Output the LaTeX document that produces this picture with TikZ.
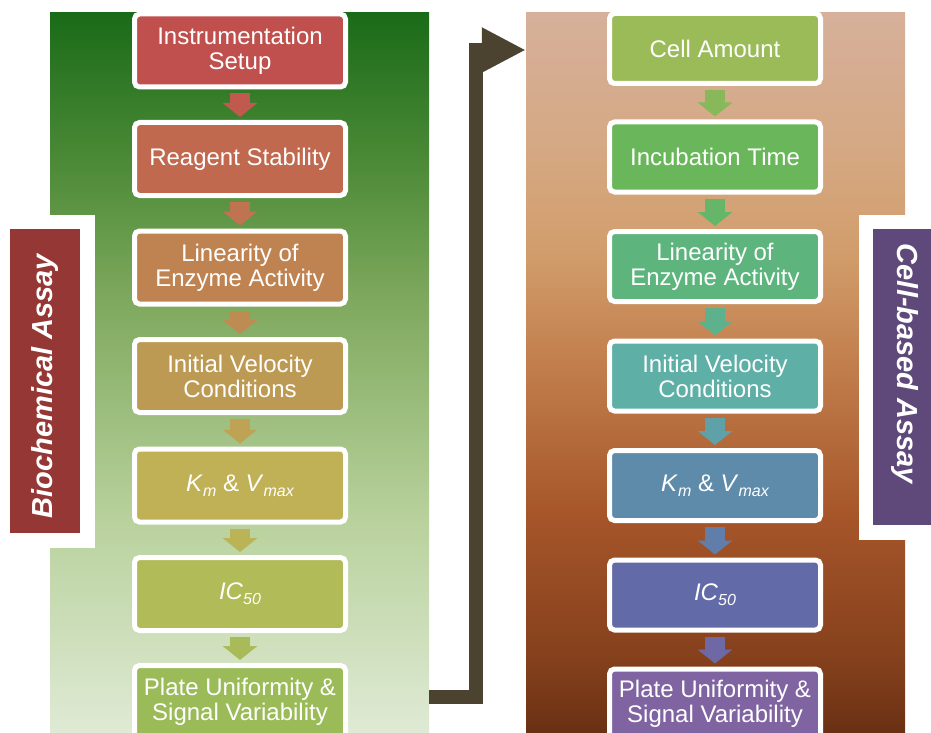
\documentclass[tikz,border=0pt]{standalone}
\usepackage{fontspec}
\setmainfont{Liberation Sans}
\usetikzlibrary{arrows.meta,calc}
\definecolor{gp0}{HTML}{DFEAD4}
\definecolor{gp1}{HTML}{B8D19C}
\definecolor{gp2}{HTML}{7FA95E}
\definecolor{gp3}{HTML}{4A8936}
\definecolor{gp4}{HTML}{1A6B18}
\definecolor{bp0}{HTML}{6A3014}
\definecolor{bp1}{HTML}{84401C}
\definecolor{bp2}{HTML}{A65529}
\definecolor{bp3}{HTML}{C07C4A}
\definecolor{bp4}{HTML}{D19C6A}
\definecolor{bp5}{HTML}{D5A882}
\definecolor{bp6}{HTML}{D6B09B}
\pgfdeclareverticalshading{greenpanel}{100bp}{color(0bp)=(gp0); color(25bp)=(gp0); color(40bp)=(gp1); color(55bp)=(gp2); color(65bp)=(gp3); color(75bp)=(gp4); color(100bp)=(gp4)}
\pgfdeclareverticalshading{brownpanel}{100bp}{color(0bp)=(bp0); color(25bp)=(bp0); color(30bp)=(bp1); color(40bp)=(bp2); color(50bp)=(bp3); color(58bp)=(bp4); color(65bp)=(bp5); color(75bp)=(bp6); color(100bp)=(bp6)}
\definecolor{L1}{HTML}{C0504D}
\definecolor{L2}{HTML}{C0694F}
\definecolor{L3}{HTML}{BF8351}
\definecolor{L4}{HTML}{BD9A53}
\definecolor{L5}{HTML}{C0B056}
\definecolor{L6}{HTML}{B1BB57}
\definecolor{L7}{HTML}{9BBB59}
\definecolor{R1}{HTML}{9BBB59}
\definecolor{R2}{HTML}{6AB75B}
\definecolor{R3}{HTML}{5DB47D}
\definecolor{R4}{HTML}{5EAFA6}
\definecolor{R5}{HTML}{5F8BAB}
\definecolor{R6}{HTML}{626AA7}
\definecolor{R7}{HTML}{8064A2}
\definecolor{connector}{HTML}{4B4330}
\definecolor{labelred}{HTML}{953735}
\definecolor{labelpurple}{HTML}{5F497A}
\newcommand\mysubs[1]{\raisebox{-5pt}{\fontsize{16}{16}\selectfont\itshape #1}}
\begin{document}
\begin{tikzpicture}[x=1pt,y=-1pt,
  box/.style={draw=white, line width=5pt, rounded corners=5pt, minimum width=211pt, inner sep=2pt, align=center, text=white, font=\fontsize{24}{25}\selectfont},
  lbox/.style={box, minimum height=73pt},
  rbox/.style={box, minimum height=70pt},
  sarrow/.style={line width=20pt, -{Triangle[length=14pt,width=34pt]}},
  bigarrow/.style={draw=connector, line width=14pt, -{Triangle[length=44pt,width=42pt]}},
  panel/.style={minimum width=379pt, minimum height=720pt, inner sep=0pt, shade},
  sidetext/.style={text=white, font=\fontsize{29}{29}\selectfont\bfseries\itshape, inner sep=0pt}]
\useasboundingbox (0,0) rectangle (931,733);
% panels
\node[panel, shading=greenpanel] (lpanel) at (239.5,373) {};
\node[panel, shading=brownpanel] (rpanel) at (715.5,373) {};
% white backings for side labels
\node[fill=white, minimum width=95pt, minimum height=333pt, inner sep=0pt] (lwhite) at (47.5,381.5) {};
\node[fill=white, minimum width=81pt, minimum height=325pt, inner sep=0pt] (rwhite) at (899.5,377.5) {};
\node[fill=labelred, minimum width=70pt, minimum height=304pt, inner sep=0pt] (lbl) at (45,381) {};
\node[fill=labelpurple, minimum width=67pt, minimum height=296pt, inner sep=0pt] (rbl) at (906.5,377) {};
\node[sidetext, rotate=90] (ltext) at (45,386) {Biochemical Assay};
\node[sidetext, rotate=-90] (rtext) at (905,364) {Cell-based Assay};
% left column
\node[lbox, fill=L1] (A1) at (240,50.5) {Instrumentation\\Setup};
\node[lbox, fill=L2] (A2) at (240,159) {Reagent Stability};
\node[lbox, fill=L3] (A3) at (240,267.5) {Linearity of\\Enzyme Activity};
\node[lbox, fill=L4] (A4) at (240,376) {Initial Velocity\\Conditions};
\node[lbox, fill=L5] (A5) at (240,485.5) {\textit{K}\mysubs{m} \& \textit{V}\mysubs{max}};
\node[lbox, fill=L6] (A6) at (240,594) {\textit{IC}\mysubs{50}};
\node[lbox, fill=L7] (A7) at (240,702) {Plate Uniformity \&\\Signal Variability};
% right column
\node[rbox, fill=R1] (B1) at (715,48.5) {Cell Amount};
\node[rbox, fill=R2] (B2) at (715,157) {Incubation Time};
\node[rbox, fill=R3] (B3) at (715,266.5) {Linearity of\\Enzyme Activity};
\node[rbox, fill=R4] (B4) at (715,376) {Initial Velocity\\Conditions};
\node[rbox, fill=R5] (B5) at (715,485.5) {\textit{K}\mysubs{m} \& \textit{V}\mysubs{max}};
\node[rbox, fill=R6] (B6) at (715,595) {\textit{IC}\mysubs{50}};
\node[rbox, fill=R7] (B7) at (715,704) {Plate Uniformity \&\\Signal Variability};
% small arrows
\foreach \i in {1,...,6}{
  \pgfmathtruncatemacro{\j}{\i+1}
  \draw[sarrow, draw=L\i!60!L\j] ($(A\i.south)+(0,4)$) -- ($(A\j.north)+(0,-3)$);
  \draw[sarrow, draw=R\i!60!R\j] ($(B\i.south)+(0,4)$) -- ($(B\j.north)+(0,-3)$);
}
% big connector
\draw[bigarrow] (lpanel.east |- 0,697) -- (476,697) -- (476,50) -- (rpanel.west |- 0,50);
\end{tikzpicture}
\end{document}
